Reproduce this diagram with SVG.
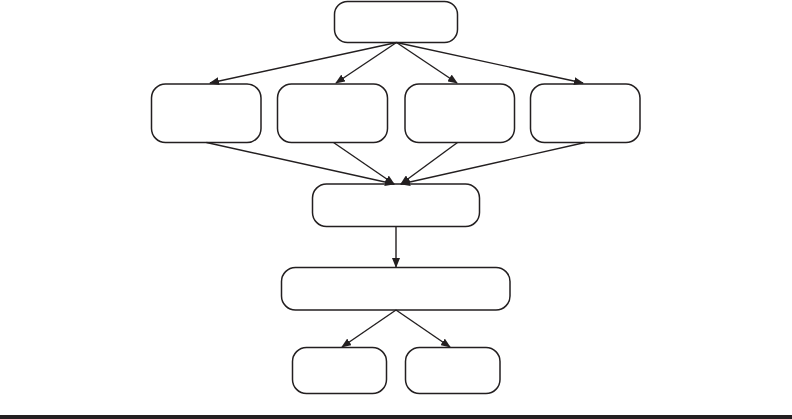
<svg xmlns="http://www.w3.org/2000/svg" width="792" height="419" viewBox="0 0 792 419">
<style>
.n rect{fill:#fff;stroke:#231f20;stroke-width:1.5}
.e line{stroke:#231f20;stroke-width:1.4;marker-end:url(#ah)}
</style>
<defs>
<marker id="ah" markerWidth="10" markerHeight="8" refX="9" refY="4" orient="auto" markerUnits="userSpaceOnUse">
<path d="M0,0 L10,4 L0,8 z" fill="#231f20"/>
</marker>
</defs>
<rect x="0" y="0" width="792" height="419" fill="#fff"/>
<g id="top" class="n"><rect x="334.5" y="1.5" width="123" height="41" rx="13"/></g>
<g id="b1" class="n"><rect x="151.5" y="84" width="109.5" height="58.5" rx="14"/></g>
<g id="b2" class="n"><rect x="277.5" y="84" width="110" height="58.5" rx="14"/></g>
<g id="b3" class="n"><rect x="405" y="84" width="109.5" height="58.5" rx="14"/></g>
<g id="b4" class="n"><rect x="530.5" y="84" width="109.5" height="58.5" rx="14"/></g>
<g id="mid" class="n"><rect x="312.5" y="184" width="167" height="42.5" rx="14"/></g>
<g id="wide" class="n"><rect x="281.5" y="267.5" width="228.5" height="42.5" rx="14"/></g>
<g id="bl" class="n"><rect x="292.5" y="347.5" width="94" height="46" rx="14"/></g>
<g id="br" class="n"><rect x="405.5" y="347.5" width="94.5" height="46" rx="14"/></g>
<g id="connectors" class="e">
<line x1="396.5" y1="42.5" x2="210" y2="83"/>
<line x1="396.5" y1="42.5" x2="336" y2="83"/>
<line x1="396.5" y1="42.5" x2="457" y2="83"/>
<line x1="396.5" y1="42.5" x2="583" y2="83"/>
<line x1="206.5" y1="142.5" x2="394" y2="184"/>
<line x1="333.5" y1="142.5" x2="394" y2="184"/>
<line x1="457.5" y1="142.5" x2="401" y2="184"/>
<line x1="585" y1="142.5" x2="401" y2="184"/>
<line x1="396" y1="226.5" x2="396" y2="267"/>
<line x1="396" y1="310" x2="342" y2="347"/>
<line x1="396" y1="310" x2="450" y2="347"/>
</g>
<rect x="0" y="415" width="792" height="4" fill="#231f20"/>
</svg>
